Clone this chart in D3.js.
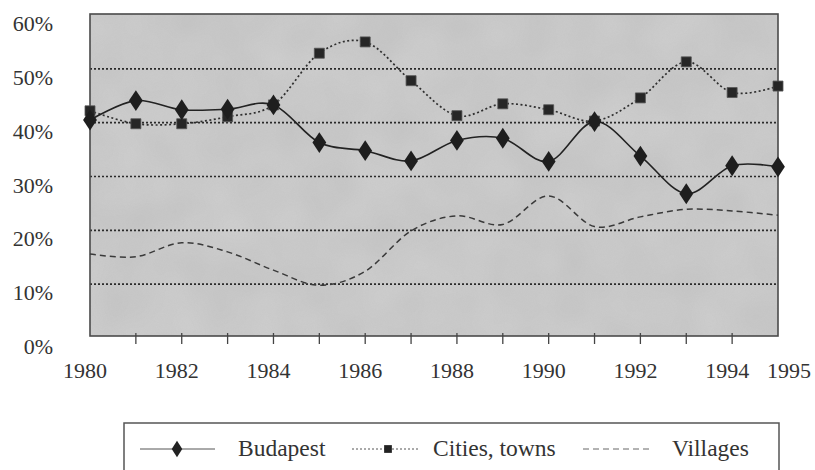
<!DOCTYPE html>
<html><head><meta charset="utf-8">
<script src="https://cdn.jsdelivr.net/npm/d3@7"></script>
<style>
html,body{margin:0;padding:0;background:#fff;}
svg{display:block;}
</style></head>
<body>
<svg id="chart" width="815" height="470"></svg>
<script>
const years = [1980,1981,1982,1983,1984,1985,1986,1987,1988,1989,1990,1991,1992,1993,1994,1995];
const budapest = [40.5,44.1,42.4,42.5,43.3,36.3,34.8,32.9,36.7,37.1,32.8,40.2,33.8,26.8,32.0,31.8];
const cities   = [42.2,39.8,39.8,41.1,43.3,52.9,55.0,47.8,41.3,43.5,42.4,40.3,44.6,51.3,45.6,46.8];
const villages = [15.6,15.1,17.7,16.0,12.6,9.8,12.4,19.9,22.7,21.1,26.4,20.7,22.5,23.9,23.6,22.8];
const yTicks = [0,10,20,30,40,50,60];
const xLabels = [1980,1982,1984,1986,1988,1990,1992,1994,1995];
const seriesNames = ["Budapest","Cities, towns","Villages"];

const FONT = "'Liberation Serif', 'Times New Roman', Tinos, 'DejaVu Serif', serif";
const svg = d3.select("#chart");
const x = d3.scaleLinear().domain([1980,1995]).range([90,778]);
const y = d3.scaleLinear().domain([0,60]).range([338,15]);
const frameTop = 14, frameBottom = 336;

const defs = svg.append("defs");
const f = defs.append("filter").attr("id","grain").attr("x",0).attr("y",0).attr("width","100%").attr("height","100%");
f.append("feTurbulence").attr("type","fractalNoise").attr("baseFrequency","0.9").attr("numOctaves",2).attr("seed",3);
f.append("feColorMatrix").attr("type","matrix").attr("values","0 0 0 0 0.5  0 0 0 0 0.5  0 0 0 0 0.5  0 0 0 0.3 0");
const f2 = defs.append("filter").attr("id","blotch").attr("x",0).attr("y",0).attr("width","100%").attr("height","100%");
f2.append("feTurbulence").attr("type","fractalNoise").attr("baseFrequency","0.02").attr("numOctaves",2).attr("seed",7);
f2.append("feColorMatrix").attr("type","matrix").attr("values","0 0 0 0 1  0 0 0 0 1  0 0 0 0 1  0 0 0 0.22 0");

const plotW = x(1995)-x(1980);
svg.append("rect").attr("x",x(1980)).attr("y",frameTop).attr("width",plotW).attr("height",frameBottom-frameTop).attr("fill","#c3c3c3");
svg.append("rect").attr("x",x(1980)).attr("y",frameTop).attr("width",plotW).attr("height",frameBottom-frameTop).attr("filter","url(#blotch)");
svg.append("rect").attr("x",x(1980)).attr("y",frameTop).attr("width",plotW).attr("height",frameBottom-frameTop).attr("filter","url(#grain)").attr("opacity",0.7);

svg.append("g").selectAll("line").data(yTicks.filter(d=>d>0 && d<60)).join("line")
  .attr("x1",x(1980)).attr("x2",x(1995)).attr("y1",d=>y(d)).attr("y2",d=>y(d))
  .attr("stroke","#2a2a2a").attr("stroke-width",1.6).attr("stroke-dasharray","2,2");

svg.append("rect").attr("x",x(1980)).attr("y",frameTop).attr("width",plotW).attr("height",frameBottom-frameTop)
  .attr("fill","none").attr("stroke","#4a4a4a").attr("stroke-width",1.6);

svg.append("g").selectAll("line").data(years.filter(d=>d>1980 && d<1995)).join("line")
  .attr("x1",d=>x(d)).attr("x2",d=>x(d)).attr("y1",frameBottom-3).attr("y2",frameBottom+8)
  .attr("stroke","#444").attr("stroke-width",1.3);

svg.append("g").selectAll("text").data(yTicks).join("text")
  .attr("font-family",FONT).attr("fill","#333")
  .attr("x",53).attr("y",d=>y(d)+16).attr("text-anchor","end").attr("font-size",22).text(d=>d+"%");

svg.append("g").selectAll("text").data(xLabels).join("text")
  .attr("font-family",FONT).attr("fill","#333")
  .attr("x",d=>x(d)-5+(d===1995?16:0)).attr("y",378).attr("text-anchor","middle").attr("font-size",22).text(d=>d);

const line = d3.line().x((d,i)=>x(years[i])).y(d=>y(d)).curve(d3.curveCardinal.tension(0));

svg.append("path").datum(villages).attr("d",line).attr("fill","none").attr("stroke","#3a3a3a").attr("stroke-width",1.5).attr("stroke-dasharray","6,4");
svg.append("path").datum(cities).attr("d",line).attr("fill","none").attr("stroke","#2e2e2e").attr("stroke-width",1.7).attr("stroke-dasharray","2,2.5");
svg.append("path").datum(budapest).attr("d",line).attr("fill","none").attr("stroke","#222").attr("stroke-width",1.6);

const sq = d3.symbol().type(d3.symbolSquare).size(100);
const dm = d3.symbol().type(d3.symbolDiamond).size(125);
svg.append("g").selectAll("path").data(cities).join("path")
  .attr("d",sq).attr("transform",(d,i)=>`translate(${x(years[i])},${y(d)})`).attr("fill","#262626").attr("stroke","#555").attr("stroke-width",0.8);
svg.append("g").selectAll("path").data(budapest).join("path")
  .attr("d",dm).attr("transform",(d,i)=>`translate(${x(years[i])},${y(d)}) scale(1.15,1)`).attr("fill","#1e1e1e");

const lg = svg.append("g");
lg.append("rect").attr("x",124).attr("y",423).attr("width",655).attr("height",60).attr("fill","#fff").attr("stroke","#555").attr("stroke-width",1.5);
const ly = 449;
lg.append("line").attr("x1",140).attr("x2",215).attr("y1",ly).attr("y2",ly).attr("stroke","#555").attr("stroke-width",1);
lg.append("path").attr("d",d3.symbol().type(d3.symbolDiamond).size(80)).attr("transform",`translate(177,${ly}) scale(1.1,1)`).attr("fill","#222");
lg.append("line").attr("x1",352).attr("x2",420).attr("y1",ly).attr("y2",ly).attr("stroke","#555").attr("stroke-width",1).attr("stroke-dasharray","2,2");
lg.append("path").attr("d",d3.symbol().type(d3.symbolSquare).size(60)).attr("transform",`translate(388,${ly})`).attr("fill","#222");
lg.append("line").attr("x1",583).attr("x2",652).attr("y1",ly).attr("y2",ly).attr("stroke","#666").attr("stroke-width",1).attr("stroke-dasharray","6,4");
lg.selectAll("text").data(seriesNames).join("text")
  .attr("font-family",FONT).attr("fill","#333").attr("font-size",23.5)
  .attr("x",(d,i)=>[238,433,672][i]).attr("y",456).text(d=>d);
</script>
</body></html>
